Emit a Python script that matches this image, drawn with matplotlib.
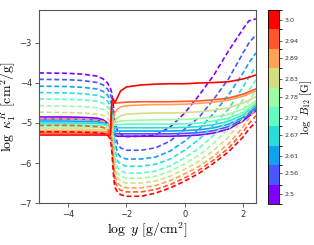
import numpy as np
import matplotlib
matplotlib.use("Agg")
import matplotlib.pyplot as plt
from matplotlib.colors import ListedColormap, BoundaryNorm
from matplotlib.cm import ScalarMappable

plt.rcParams['mathtext.fontset'] = 'cm'

# log B12 values (colorbar)
B_values = [2.5, 2.56, 2.61, 2.67, 2.72, 2.78, 2.83, 2.89, 2.94, 3.0]
B_ticklabels = ['2.5', '2.56', '2.61', '2.67', '2.72', '2.78', '2.83', '2.89', '2.94', '3.0']

# shared log y grid
log_y = [-5.0, -4.0, -3.5, -3.0, -2.8, -2.65, -2.55, -2.5, -2.45, -2.4, -2.3, -2.2,
         -2.0, -1.5, -1.0, -0.5, 0.0, 0.5, 1.0, 1.5, 2.0, 2.2, 2.44]

# dashed curves (one per B value)
kappa_dashed_250 = [-3.75, -3.76, -3.78, -3.83, -3.90, -4.00, -4.13, -4.25, -4.55, -4.95, -5.20, -5.28,
                    -5.34, -5.33, -5.30, -5.10, -4.75, -4.30, -3.80, -3.20, -2.65, -2.45, -2.40]
kappa_dashed_256 = [-3.91, -3.92, -3.94, -3.99, -4.05, -4.15, -4.28, -4.40, -4.75, -5.25, -5.53, -5.62,
                    -5.68, -5.68, -5.62, -5.45, -5.15, -4.85, -4.40, -3.90, -3.25, -3.00, -2.80]
kappa_dashed_261 = [-4.08, -4.09, -4.11, -4.15, -4.21, -4.30, -4.43, -4.55, -4.95, -5.45, -5.76, -5.85,
                    -5.90, -5.90, -5.85, -5.70, -5.45, -5.15, -4.75, -4.30, -3.75, -3.50, -3.25]
kappa_dashed_267 = [-4.24, -4.25, -4.27, -4.31, -4.36, -4.45, -4.57, -4.70, -5.10, -5.65, -5.95, -6.03,
                    -6.08, -6.08, -6.03, -5.90, -5.68, -5.40, -5.05, -4.65, -4.10, -3.85, -3.60]
kappa_dashed_272 = [-4.40, -4.41, -4.42, -4.46, -4.51, -4.59, -4.70, -4.85, -5.30, -5.85, -6.12, -6.20,
                    -6.25, -6.25, -6.20, -6.07, -5.87, -5.62, -5.30, -4.92, -4.42, -4.18, -3.92]
kappa_dashed_278 = [-4.57, -4.58, -4.59, -4.62, -4.66, -4.73, -4.84, -5.00, -5.45, -6.00, -6.25, -6.33,
                    -6.38, -6.38, -6.33, -6.20, -6.02, -5.80, -5.50, -5.15, -4.68, -4.45, -4.20]
kappa_dashed_283 = [-4.73, -4.74, -4.75, -4.78, -4.81, -4.87, -4.98, -5.15, -5.65, -6.15, -6.38, -6.45,
                    -6.50, -6.50, -6.45, -6.33, -6.15, -5.95, -5.68, -5.35, -4.90, -4.68, -4.45]
kappa_dashed_289 = [-4.89, -4.90, -4.91, -4.93, -4.96, -5.01, -5.12, -5.30, -5.85, -6.30, -6.50, -6.57,
                    -6.62, -6.62, -6.56, -6.44, -6.27, -6.08, -5.82, -5.52, -5.10, -4.88, -4.65]
kappa_dashed_294 = [-5.06, -5.06, -5.07, -5.09, -5.11, -5.16, -5.26, -5.50, -6.05, -6.45, -6.61, -6.68,
                    -6.72, -6.72, -6.66, -6.54, -6.37, -6.17, -5.92, -5.63, -5.23, -5.02, -4.82]
kappa_dashed_300 = [-5.22, -5.22, -5.23, -5.24, -5.26, -5.30, -5.40, -5.70, -6.25, -6.60, -6.73, -6.79,
                    -6.83, -6.83, -6.75, -6.62, -6.45, -6.25, -6.00, -5.72, -5.35, -5.15, -4.97]

# solid curves (one per B value)
kappa_solid_250 = [-4.85, -4.85, -4.86, -4.88, -4.92, -5.00, -5.12, -5.22, -5.28, -5.31, -5.33, -5.33,
                   -5.33, -5.33, -5.33, -5.33, -5.32, -5.30, -5.25, -5.15, -4.95, -4.83, -4.70]
kappa_solid_256 = [-4.90, -4.90, -4.91, -4.93, -4.96, -5.03, -5.12, -5.20, -5.24, -5.26, -5.27, -5.27,
                   -5.27, -5.27, -5.27, -5.27, -5.26, -5.24, -5.19, -5.09, -4.91, -4.79, -4.65]
kappa_solid_261 = [-4.95, -4.95, -4.96, -4.97, -5.00, -5.05, -5.12, -5.17, -5.19, -5.20, -5.20, -5.20,
                   -5.20, -5.20, -5.20, -5.20, -5.19, -5.17, -5.12, -5.03, -4.86, -4.74, -4.60]
kappa_solid_267 = [-5.00, -5.00, -5.00, -5.01, -5.02, -5.04, -5.07, -5.10, -5.11, -5.12, -5.12, -5.12,
                   -5.12, -5.12, -5.12, -5.12, -5.11, -5.09, -5.04, -4.96, -4.80, -4.68, -4.55]
kappa_solid_272 = [-5.05, -5.05, -5.05, -5.06, -5.06, -5.07, -5.08, -5.08, -5.06, -5.05, -5.04, -5.04,
                   -5.03, -5.03, -5.03, -5.03, -5.02, -5.00, -4.95, -4.88, -4.74, -4.63, -4.50]
kappa_solid_278 = [-5.10, -5.10, -5.10, -5.11, -5.11, -5.12, -5.12, -5.10, -5.05, -5.00, -4.97, -4.95,
                   -4.94, -4.93, -4.92, -4.92, -4.91, -4.89, -4.85, -4.78, -4.65, -4.56, -4.45]
kappa_solid_283 = [-5.15, -5.15, -5.15, -5.16, -5.16, -5.17, -5.17, -5.15, -5.05, -4.95, -4.87, -4.82,
                   -4.78, -4.76, -4.75, -4.75, -4.74, -4.72, -4.68, -4.62, -4.50, -4.43, -4.35]
kappa_solid_289 = [-5.20, -5.20, -5.20, -5.21, -5.21, -5.22, -5.22, -5.10, -4.90, -4.75, -4.65, -4.60,
                   -4.57, -4.55, -4.54, -4.54, -4.53, -4.51, -4.48, -4.43, -4.33, -4.27, -4.20]
kappa_solid_294 = [-5.25, -5.25, -5.25, -5.26, -5.26, -5.26, -5.25, -4.50, -4.45, -4.50, -4.50, -4.49,
                   -4.48, -4.47, -4.47, -4.47, -4.46, -4.45, -4.42, -4.38, -4.28, -4.22, -4.15]
kappa_solid_300 = [-5.30, -5.30, -5.30, -5.30, -5.30, -5.30, -5.30, -4.45, -4.40, -4.50, -4.35, -4.20,
                   -4.10, -4.05, -4.03, -4.02, -4.02, -4.00, -3.99, -3.97, -3.90, -3.86, -3.80]

dashed_curves = [kappa_dashed_250, kappa_dashed_256, kappa_dashed_261, kappa_dashed_267, kappa_dashed_272,
                 kappa_dashed_278, kappa_dashed_283, kappa_dashed_289, kappa_dashed_294, kappa_dashed_300]
solid_curves = [kappa_solid_250, kappa_solid_256, kappa_solid_261, kappa_solid_267, kappa_solid_272,
                kappa_solid_278, kappa_solid_283, kappa_solid_289, kappa_solid_294, kappa_solid_300]

colors = plt.cm.rainbow(np.linspace(0, 1, len(B_values)))

fig = plt.figure(figsize=(3.14, 2.45), dpi=100)
ax = fig.add_axes([0.124, 0.171, 0.691, 0.788])

for i in range(len(B_values)):
    ax.plot(log_y, dashed_curves[i], color=colors[i], lw=1.2, ls='--', dashes=(3, 1.6))
    ax.plot(log_y, solid_curves[i], color=colors[i], lw=1.2, ls='-')

ax.set_xlim(-5.0, 2.44)
ax.set_ylim(-7.0, -2.18)
ax.set_xticks([-4, -2, 0, 2])
ax.set_yticks([-7, -6, -5, -4, -3])
ax.tick_params(labelsize=6, length=3, width=0.6, color='#444444', labelcolor='#333333', pad=2)
for s in ax.spines.values():
    s.set_color('#555555')
    s.set_linewidth(0.8)
ax.set_xlabel(r'$\log\ y\ [\mathrm{g/cm^2}]$', fontsize=10, labelpad=1)
ax.set_ylabel(r'$\log\ \kappa_1^R\ [\mathrm{cm^2/g}]$', fontsize=10, labelpad=1)

# discrete colorbar
edges = [2.4722, 2.5278, 2.5833, 2.6389, 2.6944, 2.75, 2.8056, 2.8611, 2.9167, 2.9722, 3.0278]
cmap = ListedColormap(colors)
norm = BoundaryNorm(edges, cmap.N)
cax = fig.add_axes([0.853, 0.167, 0.036, 0.792])
sm = ScalarMappable(norm=norm, cmap=cmap)
cb = fig.colorbar(sm, cax=cax, ticks=B_values)
cb.ax.set_yticklabels(B_ticklabels)
cb.ax.tick_params(labelsize=4.6, length=2.5, width=0.6, color='#444444', labelcolor='#333333', pad=1.2)
cb.outline.set_linewidth(0.6)
fig.text(0.974, 0.563, r'$\log\ B_{12}\ [\mathrm{G}]$', fontsize=8, rotation=90,
         ha='center', va='center')

fig.savefig('out.png', dpi=100)
